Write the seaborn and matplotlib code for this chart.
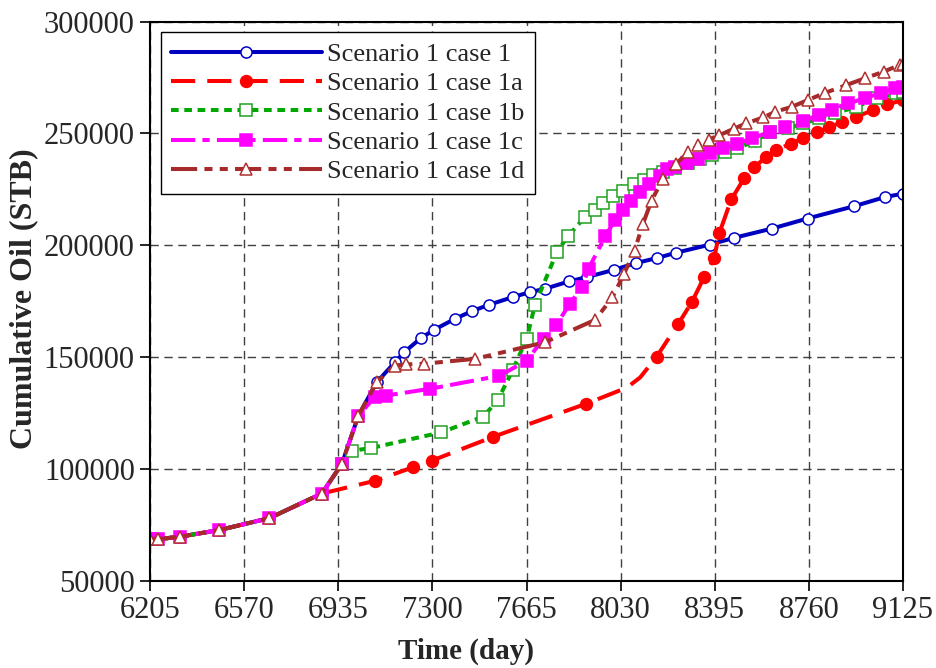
import numpy as np
import pandas as pd
import matplotlib
matplotlib.use("Agg")
import matplotlib.pyplot as plt
import seaborn as sns

# ---------------- data ----------------
# shared early part of all scenarios
common_day = [6205, 6237, 6321, 6474, 6668, 6871]
common_oil = [68700, 68700, 69800, 72800, 78100, 89100]

# Scenario 1 case 1
c1_day = [6949, 7013, 7084, 7155, 7190, 7255, 7307, 7388, 7453, 7521, 7612, 7679,
          7737, 7830, 7899, 8005, 8090, 8170, 8245, 8375, 8468, 8617, 8755, 8936,
          9056, 9125]
c1_oil = [102300, 123900, 138800, 147800, 152200, 158500, 162300, 167200, 170600,
          173500, 176900, 179100, 180600, 183900, 185800, 189100, 192100, 194300,
          196700, 200300, 203300, 207500, 212000, 217500, 221600, 223100]

# Scenario 1 case 1a
c1a_day = [7078, 7224, 7298, 7537, 7896, 8054, 8106, 8170, 8254, 8306, 8354, 8393,
           8413, 8459, 8509, 8548, 8594, 8633, 8690, 8737, 8791, 8840, 8888, 8944,
           9008, 9063, 9125]
c1a_oil = [94800, 100800, 103800, 114500, 129200, 136400, 141000, 150300, 165000,
           174600, 185800, 194500, 205500, 220500, 229900, 235000, 239300, 242500,
           245500, 247800, 250700, 252700, 255200, 257400, 260400, 263000, 264900]
c1a_line_only = [8054, 8106]

# Scenario 1 case 1b
c1b_day = [6949, 6987, 7061, 7334, 7498, 7554, 7612, 7666, 7698, 7783, 7825, 7892,
           7931, 7963, 8002, 8038, 8080, 8119, 8157, 8196, 8240, 8293, 8338, 8384,
           8435, 8481, 8552, 8610, 8680, 8739, 8800, 8862, 8944, 9024, 9099, 9125]
c1b_oil = [102300, 108200, 109400, 116400, 123500, 130900, 144400, 158300, 173500,
           197000, 204000, 212700, 216000, 218900, 222100, 224300, 227300, 229400,
           231300, 232800, 234600, 236600, 238400, 240300, 241800, 243300, 246700,
           250700, 252400, 254500, 256700, 259000, 261900, 265700, 267900, 268600]

# Scenario 1 case 1c
c1c_day = [6949, 7013, 7078, 7121, 7291, 7560, 7666, 7731, 7780, 7832, 7880, 7906,
           7970, 8009, 8038, 8071, 8106, 8142, 8181, 8209, 8241, 8287, 8332, 8377,
           8429, 8481, 8539, 8610, 8668, 8737, 8798, 8849, 8910, 8979, 9039, 9094,
           9125]
c1c_oil = [102300, 123900, 132400, 132900, 135900, 141700, 148500, 158300, 164500,
           173600, 181400, 189600, 204000, 211500, 215700, 219800, 223900, 227600,
           230900, 234300, 235100, 236600, 238800, 241100, 243300, 245500, 247800,
           250700, 252700, 255600, 258200, 260700, 263400, 265700, 268200, 270200,
           270600]

# Scenario 1 case 1d
c1d_day = [6949, 7013, 7084, 7155, 7198, 7268, 7466, 7737, 7931, 7998, 8043, 8084,
           8116, 8150, 8194, 8245, 8293, 8332, 8371, 8413, 8470, 8517, 8584, 8630,
           8694, 8755, 8824, 8905, 8976, 9050, 9112, 9125]
c1d_oil = [102300, 123900, 138800, 146300, 146800, 147100, 149300, 156700, 166700,
           176700, 187200, 197600, 209400, 220000, 229600, 236500, 241600, 244800,
           247300, 249200, 252200, 254500, 257200, 259700, 261900, 264900, 268200,
           271600, 274600, 277600, 280600, 281000]

labels = ["Scenario 1 case 1", "Scenario 1 case 1a", "Scenario 1 case 1b",
          "Scenario 1 case 1c", "Scenario 1 case 1d"]
x_ticks = [6205, 6570, 6935, 7300, 7665, 8030, 8395, 8760, 9125]
y_ticks = [50000, 100000, 150000, 200000, 250000, 300000]

# ---------------- figure ----------------
sns.set_theme(style="white")
plt.rcParams['font.family'] = ['Liberation Serif', 'DejaVu Serif']

fig = plt.figure(figsize=(9.36, 6.68), dpi=100)
ax = fig.add_axes([0.1603, 0.1302, 0.8044, 0.8375])

lw = 2.9
series = [
    dict(day=common_day + c1_day, oil=common_oil + c1_oil, color="#0000C0",
         ls="-", marker="o", mfc="white", mec="#0000C8", ms=8, skip=[], mark_common=True),
    dict(day=common_day + c1a_day, oil=common_oil + c1a_oil, color="#FF0000",
         ls=(0, (6, 3)), marker="o", mfc="#FF0000", mec="#FF0000", ms=8.5,
         skip=c1a_line_only, mark_common=False),
    dict(day=common_day + c1b_day, oil=common_oil + c1b_oil, color="#00A800",
         ls=(0, (1.9, 1.4)), marker="s", mfc="white", mec="#22A022", ms=8,
         skip=[], mark_common=False),
    dict(day=common_day + c1c_day, oil=common_oil + c1c_oil, color="#FF00FF",
         ls=(0, (6, 1.8, 1.8, 1.8)), marker="s", mfc="#FF00FF", mec="#FF00FF", ms=8,
         skip=[], mark_common=True),
    dict(day=common_day + c1d_day, oil=common_oil + c1d_oil, color="#A52A2A",
         ls=(0, (6.5, 1.8, 2, 1.8, 2, 1.8)), marker="^", mfc="white", mec="#B03030",
         ms=9, skip=[], mark_common=True),
]

handles = []
for s, lab in zip(series, labels):
    df = pd.DataFrame({"day": s["day"], "oil": s["oil"]})
    n_common = len(common_day)
    mk = [i for i, d in enumerate(s["day"])
          if d not in s["skip"] and (s["mark_common"] or i >= n_common)]
    sns.lineplot(data=df, x="day", y="oil", ax=ax, sort=False, estimator=None,
                 errorbar=None, color=s["color"], linestyle=s["ls"], linewidth=lw,
                 marker=s["marker"], markerfacecolor=s["mfc"],
                 markeredgecolor=s["mec"], markersize=s["ms"], markeredgewidth=1.1,
                 markevery=mk, label=lab, legend=False)
    h, = ax.plot([], [], color=s["color"], linestyle=s["ls"], linewidth=lw,
                 marker=s["marker"], markerfacecolor=s["mfc"],
                 markeredgecolor=s["mec"], markersize=s["ms"], markeredgewidth=1.1)
    handles.append(h)

ax.set_xlim(6205, 9125)
ax.set_ylim(50000, 300000)
ax.set_xticks(x_ticks)
ax.set_yticks(y_ticks)
ax.set_xticklabels([str(t) for t in x_ticks])
ax.set_yticklabels([str(t) for t in y_ticks])
ax.tick_params(axis="both", labelsize=22, direction="out", length=7, width=1.2,
               color="black", pad=4, bottom=True, left=True)
ax.grid(True, color="#404040", linestyle=(0, (6, 4)), linewidth=1.0)
for sp in ax.spines.values():
    sp.set_color("black")
    sp.set_linewidth(1.5)

ax.set_xlabel("Time (day)", fontsize=21, fontweight="bold")
ax.set_ylabel("Cumulative Oil (STB)", fontsize=23, fontweight="bold")
ax.xaxis.set_label_coords(0.42, -0.102)
ax.yaxis.set_label_coords(-0.149, 0.505)

leg = ax.legend(handles, labels, loc="upper left", fontsize=19, frameon=True,
                fancybox=False, edgecolor="black", framealpha=1, handlelength=5.7,
                labelspacing=0.22, borderpad=0.4, handletextpad=0.2,
                borderaxespad=0.4, numpoints=1)
leg.get_frame().set_linewidth(1.0)

fig.savefig("out.png", dpi=100)
